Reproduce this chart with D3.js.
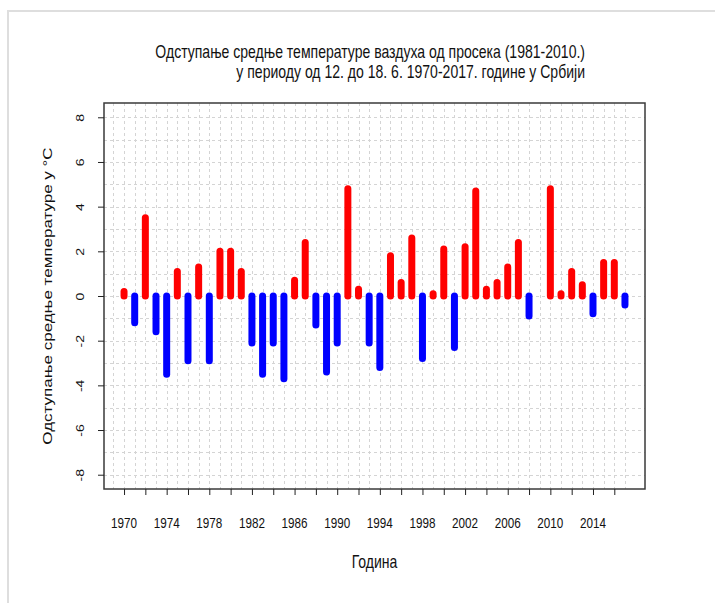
<!DOCTYPE html>
<html>
<head>
<meta charset="utf-8">
<script src="https://cdn.jsdelivr.net/npm/d3@7"></script>
<style>
  body { margin: 0; background: #fff; }
  svg { display: block; font-family: "Liberation Sans", Arial, sans-serif; }
</style>
</head>
<body>
<svg id="chart" width="715" height="603"></svg>
<script>
// anomaly of mean air temperature, 12-18 June, vs 1981-2010 (°C)
const firstYear = 1970;
const anomalies = [
  0.2, -1.2, 3.5, -1.6, -3.5, 1.1, -2.9, 1.3, -2.9, 2.0,
  2.0, 1.1, -2.1, -3.5, -2.1, -3.7, 0.7, 2.4, -1.3, -3.4,
  -2.1, 4.8, 0.3, -2.1, -3.2, 1.8, 0.6, 2.6, -2.8, 0.1,
  2.1, -2.3, 2.2, 4.7, 0.3, 0.6, 1.3, 2.4, -0.9, 0,
  4.8, 0.1, 1.1, 0.5, -0.8, 1.5, 1.5, -0.4
];
const years = anomalies.map((_, i) => firstYear + i);
const xTicks = [1970, 1972, 1974, 1976, 1978, 1980, 1982, 1984, 1986, 1988, 1990, 1992,
  1994, 1996, 1998, 2000, 2002, 2004, 2006, 2008, 2010, 2012, 2014, 2016];
const xLabels = [1970, 1974, 1978, 1982, 1986, 1990, 1994, 1998, 2002, 2006, 2010, 2014];
const yTicks = [-8, -6, -4, -2, 0, 2, 4, 6, 8];
const yGrid = d3.range(-8, 9, 1);
const xGrid = [1969, ...years];

const titleLines = [
  'Одступање средње температуре ваздуха од просека (1981-2010.)',
  'у периоду од 12. до 18. 6. 1970-2017. године у Србији'
];
const xTitle = 'Година';
const yTitle = 'Одступање средње температуре у °C';

const box = { left: 104, right: 645, top: 103, bottom: 489 };
const sx = 0.78; // horizontal squeeze of the text in the picture

const svg = d3.select('#chart');

// page frame
svg.append('path')
  .attr('d', 'M8,603V11H715')
  .attr('fill', 'none')
  .attr('stroke', '#dedede')
  .attr('stroke-width', 2);

// R style: pad the data range by 4%
const xExt = [firstYear, years[years.length - 1]];
const xPad = (xExt[1] - xExt[0]) * 0.04;
const x = d3.scaleLinear()
  .domain([xExt[0] - xPad, xExt[1] + xPad])
  .range([box.left, box.right]);
const y = d3.scaleLinear()
  .domain([-8 - 16 * 0.04, 8 + 16 * 0.04])
  .range([box.bottom, box.top]);

// grid
const grid = svg.append('g')
  .attr('stroke', '#d4d4d4')
  .attr('stroke-width', 1)
  .attr('stroke-dasharray', '3,3');

grid.selectAll('line.h')
  .data(yGrid)
  .join('line')
  .attr('class', 'h')
  .attr('x1', box.left)
  .attr('x2', box.right)
  .attr('y1', d => Math.round(y(d)) + 0.5)
  .attr('y2', d => Math.round(y(d)) + 0.5);

grid.selectAll('line.v')
  .data(xGrid)
  .join('line')
  .attr('class', 'v')
  .attr('y1', box.top)
  .attr('y2', box.bottom)
  .attr('x1', d => Math.round(x(d)) + 0.5)
  .attr('x2', d => Math.round(x(d)) + 0.5);

// bars as thick round-capped segments
svg.append('g')
  .selectAll('line')
  .data(years.map((yr, i) => ({ year: yr, value: anomalies[i] })).filter(d => d.value !== 0))
  .join('line')
  .attr('x1', d => x(d.year))
  .attr('x2', d => x(d.year))
  .attr('y1', y(0))
  .attr('y2', d => y(d.value))
  .attr('stroke', d => (d.value > 0 ? '#ff0000' : '#0000ff'))
  .attr('stroke-width', 7)
  .attr('stroke-linecap', 'round');

// plot box
svg.append('rect')
  .attr('x', box.left)
  .attr('y', box.top)
  .attr('width', box.right - box.left)
  .attr('height', box.bottom - box.top)
  .attr('fill', 'none')
  .attr('stroke', '#3a3a3a')
  .attr('stroke-width', 1.5);

// y axis
const yAxis = svg.append('g')
  .attr('transform', `translate(${box.left},0)`)
  .call(d3.axisLeft(y).tickValues(yTicks).tickSize(6).tickFormat(d => String(d)));
yAxis.select('.domain').remove();
yAxis.selectAll('.tick line').attr('stroke', '#222');
yAxis.selectAll('.tick text')
  .attr('x', null)
  .attr('dy', null)
  .attr('text-anchor', 'middle')
  .attr('font-size', 14)
  .attr('fill', '#111')
  .attr('transform', `translate(-20,0) scale(${sx},1) rotate(-90)`);

// x axis
const xAxis = svg.append('g')
  .attr('transform', `translate(0,${box.bottom})`)
  .call(d3.axisBottom(x).tickValues(xTicks).tickSize(6).tickFormat(''));
xAxis.select('.domain').remove();
xAxis.selectAll('.tick line').attr('stroke', '#222');

svg.append('g')
  .selectAll('text')
  .data(xLabels)
  .join('text')
  .attr('transform', d => `translate(${x(d)},528) scale(${sx},1)`)
  .attr('text-anchor', 'middle')
  .attr('font-size', 15)
  .attr('fill', '#111')
  .text(d => d);

// titles
svg.append('g')
  .selectAll('text')
  .data(titleLines)
  .join('text')
  .attr('transform', (d, i) => `translate(585,${58 + i * 20}) scale(${sx},1)`)
  .attr('text-anchor', 'end')
  .attr('font-size', 18)
  .attr('fill', '#111')
  .text(d => d);

svg.append('text')
  .attr('transform', `translate(${(box.left + box.right) / 2},568) scale(${sx},1)`)
  .attr('text-anchor', 'middle')
  .attr('font-size', 18)
  .attr('fill', '#111')
  .text(xTitle);

svg.append('text')
  .attr('transform', `translate(52,${(box.top + box.bottom) / 2}) scale(${sx},1) rotate(-90)`)
  .attr('text-anchor', 'middle')
  .attr('font-size', 17)
  .attr('fill', '#111')
  .text(yTitle);
</script>
</body>
</html>
